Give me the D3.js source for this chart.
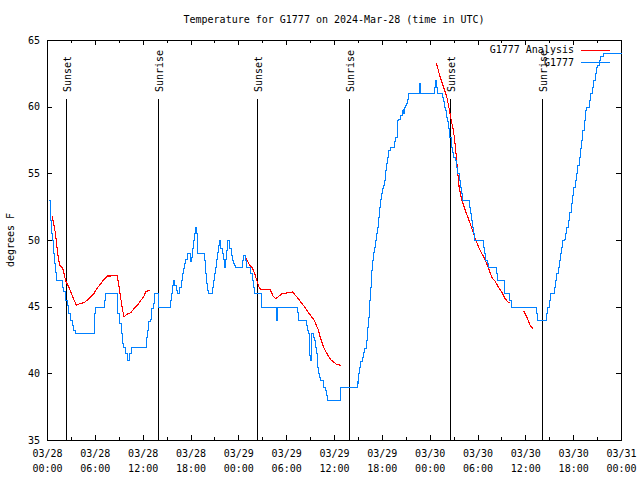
<!DOCTYPE html>
<html><head><meta charset="utf-8">
<script src="https://cdn.jsdelivr.net/npm/d3@7"></script>
<style>
body{margin:0;background:#fff}
text{font-family:"DejaVu Sans Mono","Liberation Mono",monospace;font-size:10px;fill:#000}
</style>
</head><body>
<svg id="chart" width="640" height="480"></svg>
<script>
// ---- data (hours since 2024-03-28 00:00 UTC) ----
const titleText = "Temperature for G1777 on 2024-Mar-28 (time in UTC)";
const yLabel = "degrees F";
const seriesNames = ["G1777 Analysis", "G1777"];

const stationHours = [0.17,0.40,0.50,0.60,0.72,0.85,0.98,1.12,1.92,2.05,2.20,2.30,2.47,2.63,2.93,3.18,3.30,3.50,5.94,6.02,7.15,7.28,8.82,9.03,9.24,9.41,9.58,9.83,10.08,10.33,10.50,12.38,12.55,12.72,12.88,13.09,13.26,13.43,13.95,
15.39,15.52,15.64,15.77,15.98,16.14,16.27,16.60,16.77,16.90,17.06,17.23,17.36,17.52,17.94,18.07,18.19,18.36,18.49,18.57,18.69,18.78,18.86,19.74,19.82,19.91,20.03,20.16,20.66,20.79,20.91,21.08,21.21,21.33,21.50,21.58,21.71,21.92,22.04,22.17,22.33,22.46,22.58,22.84,23.05,23.17,23.30,23.46,23.59,24.43,24.63,24.80,24.93,25.43,25.51,25.68,25.81,25.93,26.81,28.69,28.81,31.40,31.53,32.50,32.62,32.71,32.83,32.92,33.00,33.08,33.17,33.38,33.50,33.63,33.75,33.88,34.00,34.17,34.30,34.59,34.88,35.01,35.13,36.72,
38.86,38.90,39.06,39.19,39.31,39.48,39.65,39.81,39.98,40.11,40.23,40.36,40.48,40.61,40.74,40.86,41.03,41.15,41.28,41.40,41.53,41.66,41.78,41.91,42.03,42.16,42.33,42.45,42.58,42.70,42.83,43.00,43.58,43.71,43.84,43.96,44.09,44.29,44.50,44.63,44.71,44.84,44.96,45.09,45.21,45.34,46.69,46.81,48.52,48.69,48.77,48.86,49.52,49.65,49.77,49.94,50.11,50.23,50.36,50.48,50.65,50.78,50.98,51.15,51.32,51.49,51.65,51.78,51.90,52.03,
52.95,53.07,53.20,53.37,53.49,53.62,54.66,54.83,54.96,55.17,55.37,56.29,56.46,57.30,57.38,58.01,58.14,61.31,61.44,62.65,62.78,62.94,63.07,63.57,63.74,63.87,64.04,64.20,64.33,64.49,64.66,64.83,65.00,65.16,65.33,65.50,65.67,65.83,66.00,66.17,66.34,66.50,66.67,66.84,67.00,67.17,67.34,67.46,67.63,67.96,68.13,68.30,68.47,68.68,68.84,69.01,69.18,69.35,69.77,72.0];
const stationTemps = [53,51.5,50.5,50,49,48.3,47.6,47,46.5,46.2,45.8,45.5,45.1,44.5,44,43.6,43.25,43,44.5,45,45.5,46,44.5,43.75,43,42.25,42,41.5,41,41.5,42,42.75,43.25,43.9,44.1,44.9,45.25,46,45,
45.5,46,46.6,47,46.6,46.25,46,46.5,47,47.5,47.9,48.25,48.6,49,48.4,48.75,49.4,50,50.5,51,50.5,49.5,49,48.5,47.5,46.75,46.25,46,46.5,47,47.5,48,48.6,49.1,49.6,50,49.4,49,48.6,48,48.6,49.25,50,49.4,48.9,48.5,48.25,48.1,48,48.5,48.9,48.5,48,47.5,47.5,47,46.5,46,45,44,45,44.6,44,43.6,43.25,43,41.75,41.4,41,42.5,43,42.75,42.5,42,41.5,40.5,40,39.75,39.5,39,38.75,38.4,38,39,
39.5,39.25,40,40.5,40.9,41.25,41.6,41.9,42.5,43.5,44.25,45.5,46.5,47.75,48.5,49.1,49.5,50,50.5,51,51.75,52.5,53.1,53.5,53.9,54.1,54.5,55.25,55.75,56.25,56.75,57,57.4,57.75,58.4,59,59.1,59.4,59.75,59.9,59.5,60,60.1,60.25,60.6,61,61.75,61,61.5,62,61.5,61,60.75,60.4,60,59.75,59.25,58.9,58.4,57.75,57,56.6,56.25,56,55.5,55,54.5,54,53.5,53,
52.5,52,51.5,51,50.5,50,49.5,49,48.5,48.25,48,47.5,47,46.5,46,45.5,45,44.5,44,44.5,45,45.5,46,46.5,47,47.5,48,48.5,49,49.5,50,50.1,50.5,51,51.5,52.1,52.75,53.4,54,54.5,55,55.6,56.25,56.9,57.5,58.25,59,59.75,60,60.5,61,61.5,62,62.5,63,63.1,63.5,63.8,64,64];

const analysisHours = [0.63,0.92,1.05,1.25,1.34,1.59,1.97,2.22,2.38,2.72,3.05,3.39,3.68,4.22,4.64,5.06,5.48,5.90,6.31,6.73,7.15,7.57,7.99,8.41,8.82,9.03,9.28,9.53,9.66,10.08,10.50,10.92,11.33,11.75,12.17,12.38,12.88,
18.0,
24.76,25.10,25.43,25.76,26.10,26.35,26.64,26.81,27.98,28.40,28.69,29.44,30.28,30.78,31.32,31.95,32.29,32.87,33.50,34.04,34.25,34.67,35.09,35.63,36.26,36.84,
42.0,
48.85,49.30,49.73,50.14,50.48,50.73,50.98,51.23,51.50,51.69,52.03,52.45,52.86,53.28,53.70,54.12,54.54,54.96,55.37,55.79,56.21,56.63,57.05,57.47,57.88,58.09,
59.0,
59.78,60.17,60.60,61.01];
const analysisTemps = [51.8,51.0,50.5,49.5,49.0,48.1,47.9,47.25,46.9,46.5,46.0,45.5,45.1,45.25,45.3,45.5,45.75,46.0,46.4,46.7,47.05,47.3,47.3,47.35,47.3,46.5,45.5,44.6,44.25,44.45,44.55,44.85,45.1,45.45,45.8,46.1,46.25,
null,
48.9,48.5,48.1,47.9,47.4,46.9,46.4,46.3,46.3,45.75,45.6,45.95,46.05,46.1,45.75,45.25,45.0,44.5,44.0,43.25,42.75,42.0,41.5,41.0,40.7,40.6,
null,
63.25,62.25,61.5,60.75,59.75,58.9,58.25,57.0,55.2,54.0,53.0,52.25,51.6,50.9,50.1,49.5,49.0,48.5,47.9,47.2,46.9,46.45,46.1,45.6,45.3,45.3,
null,
44.7,44.25,43.6,43.3];

const sunEventNames = ["Sunset","Sunrise","Sunset","Sunrise","Sunset","Sunrise"];
const sunEventHours = [2.42,13.93,26.38,37.93,50.56,62.07];

const yTickValues = [35,40,45,50,55,60,65];
const xMajorStepHours = 6;
const xMinorStepHours = 3;

// ---- layout ----
const W = 640, H = 480;
const L = 47, R = 621, T = 40, B = 440;
const t0 = Date.UTC(2024,2,28);
const toDate = h => new Date(t0 + h*3600e3);

const svg = d3.select("#chart");
const x = d3.scaleUtc().domain([toDate(0), toDate(72)]).range([L, R]);
const y = d3.scaleLinear().domain([35, 65]).range([B, T]);

// title
svg.append("text").attr("x", (L+R)/2).attr("y", 23).attr("text-anchor","middle").text(titleText);
// y label
svg.append("text").attr("transform", `translate(14,${(T+B)/2}) rotate(-90)`).attr("text-anchor","middle").text(yLabel);

const crisp = g => g.attr("shape-rendering","crispEdges");

// axes
const gLeft = svg.append("g").attr("transform",`translate(${L},0)`).call(crisp)
  .call(d3.axisLeft(y).tickValues(yTickValues).tickSize(-5).tickPadding(7).tickFormat(d3.format("d")));
const gRight = svg.append("g").attr("transform",`translate(${R},0)`).call(crisp)
  .call(d3.axisRight(y).tickValues(yTickValues).tickSize(-5).tickFormat(""));
const majorTicks = d3.range(0, 73, xMajorStepHours).map(toDate);
const minorTicks = d3.range(0, 73, xMinorStepHours).filter(h => h % xMajorStepHours !== 0).map(toDate);
const gBottom = svg.append("g").attr("transform",`translate(0,${B})`).call(crisp)
  .call(d3.axisBottom(x).tickValues(majorTicks).tickSize(-5).tickPadding(0).tickFormat(""));
svg.append("g").attr("transform",`translate(0,${B})`).call(crisp)
  .call(d3.axisBottom(x).tickValues(minorTicks).tickSize(-3).tickFormat(""));
svg.append("g").attr("transform",`translate(0,${T})`).call(crisp)
  .call(d3.axisTop(x).tickValues(majorTicks).tickSize(-5).tickFormat(""));
svg.append("g").attr("transform",`translate(0,${T})`).call(crisp)
  .call(d3.axisTop(x).tickValues(minorTicks).tickSize(-3).tickFormat(""));
svg.selectAll(".domain").remove();
svg.selectAll(".tick line").attr("stroke","#000");
gLeft.selectAll("text").attr("font-size",null).attr("font-family",null);

// two-line x labels
const fDay = d3.utcFormat("%m/%d"), fTime = d3.utcFormat("%H:%M");
gBottom.selectAll(".tick text").each(function(d){
  const t = d3.select(this).attr("y",null).attr("dy",null).attr("font-size",null).attr("font-family",null);
  t.append("tspan").attr("x",0).attr("y",17).text(fDay(d));
  t.append("tspan").attr("x",0).attr("y",32).text(fTime(d));
});

// frame
svg.append("rect").attr("x",L+0.5).attr("y",T+0.5).attr("width",R-L).attr("height",B-T)
  .attr("fill","none").attr("stroke","#000").attr("shape-rendering","crispEdges");

// sunrise / sunset lines
sunEventHours.forEach((h,i) => {
  const xp = Math.round(x(toDate(h))) + 0.5;
  svg.append("line").attr("x1",xp).attr("x2",xp).attr("y1",99).attr("y2",B)
    .attr("stroke","#000").attr("shape-rendering","crispEdges");
  svg.append("text").attr("transform",`translate(${xp+4.5},92) rotate(-90)`).text(sunEventNames[i]);
});

// series
const stationData = stationHours.map((h,i)=>({d:toDate(h), v:stationTemps[i]}));
const analysisData = analysisHours.map((h,i)=>({d:toDate(h), v:analysisTemps[i]}));

svg.append("path").datum(analysisData)
  .attr("d", d3.line().defined(p=>p.v!==null).x(p=>x(p.d)).y(p=>y(p.v)))
  .attr("fill","none").attr("stroke","#ff0000").attr("stroke-width",1.1).attr("shape-rendering","crispEdges");
svg.append("path").datum(stationData)
  .attr("d", d3.line().curve(d3.curveStepAfter).x(p=>Math.round(x(p.d))+0.5).y(p=>Math.round(y(p.v))+0.5))
  .attr("fill","none").attr("stroke","#0080ff").attr("stroke-width",1).attr("shape-rendering","crispEdges");

// legend
const legendColors = ["#ff0000","#0080ff"];
seriesNames.forEach((n,i) => {
  const ly = 49.5 + i*12.5;
  svg.append("text").attr("x",574).attr("y",ly+3.5).attr("text-anchor","end").text(n);
  svg.append("line").attr("x1",581).attr("x2",610).attr("y1",Math.round(ly)+0.5).attr("y2",Math.round(ly)+0.5)
    .attr("stroke",legendColors[i]).attr("shape-rendering","crispEdges");
});
</script>
</body></html>
